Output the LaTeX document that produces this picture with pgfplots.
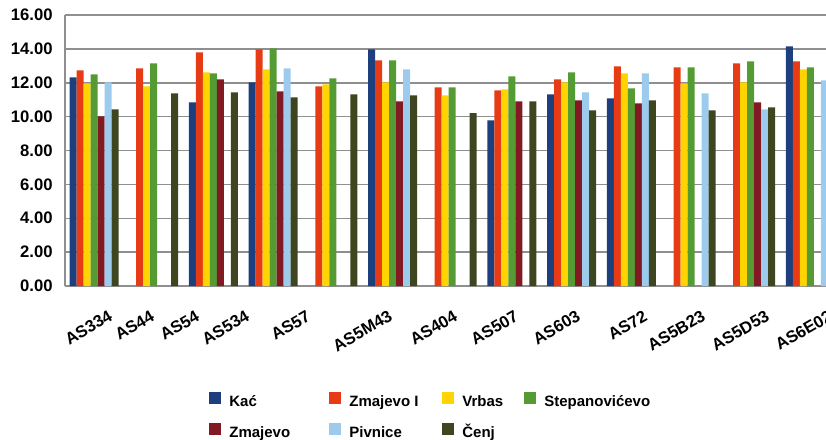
\documentclass[border=0pt]{standalone}
\usepackage{fontspec}
\setmainfont{Liberation Sans}
\usepackage{pgfplots}
\pgfplotsset{compat=1.18}
\definecolor{cKac}{HTML}{1D3F7D}
\definecolor{cZmI}{HTML}{E63B14}
\definecolor{cVrb}{HTML}{FFD400}
\definecolor{cSte}{HTML}{559B34}
\definecolor{cZma}{HTML}{821A23}
\definecolor{cPiv}{HTML}{9DCBEE}
\definecolor{cCen}{HTML}{3D461E}
\definecolor{cGrid}{HTML}{8F8F8F}

\begin{document}
\begin{tikzpicture}
% 1 px of the reference = 0.6pt
\useasboundingbox (0,0) rectangle (495.6pt,263.4pt);
\begin{axis}[
  at={(39pt,91.8pt)}, anchor=south west,
  scale only axis, width=468.6pt, height=162.6pt,
  ybar=0pt, bar width=4.2pt,
  xmin=-0.486, xmax=12.596, ymin=0, ymax=16,
  ytick={0,2,...,16},
  xtick={0.218,0.921,1.675,2.513,3.534,4.908,5.997,7.018,8.057,9.179,10.151,11.223,12.278},
  xticklabels={AS334,AS44,AS54,AS534,AS57,AS5M43,AS404,AS507,AS603,AS72,AS5B23,AS5D53,AS6E02},
  axis x line*=bottom, axis y line*=left,
  axis line style={cGrid, line width=0.9pt, -},
  ymajorgrids, grid style={cGrid, line width=0.9pt},
  major tick length=0pt,
  /pgf/number format/assume math mode=true,
  yticklabel={\pgfmathprintnumber[fixed,fixed zerofill,precision=2]{\tick}},
  yticklabel style={font=\fontsize{10}{12}\selectfont\bfseries, anchor=east, inner sep=0pt, xshift=-7.2pt},
  xticklabel style={font=\fontsize{10}{12}\selectfont\bfseries, rotate=30, anchor=east, inner sep=0pt, xshift=-6.6pt, yshift=-16pt},
  legend columns=4,
  legend image code/.code={\fill[#1] (0pt,-1pt) rectangle (7.2pt,6.2pt);},
  legend style={at={(0.1844,-0.391)}, anchor=north west, draw=none, inner sep=0pt,
    font=\fontsize{9}{11}\selectfont\bfseries,
    nodes={inner sep=0pt, text height=7pt, text depth=2pt},
    row sep=7.6pt,
    /tikz/every odd column/.append style={column sep=4.8pt}},
  every axis plot/.append style={draw=none},
]
\addplot[fill=cKac] coordinates {(0,12.32) (2,10.84) (3,12.02) (5,13.97) (7,9.78) (8,11.32) (9,11.08) (12,14.15)};
\addlegendentry{\makebox[60pt][l]{Kać}}
\addplot[fill=cZmI] coordinates {(0,12.73) (1,12.85) (2,13.79) (3,13.97) (4,11.79) (5,13.32) (6,11.73) (7,11.55) (8,12.20) (9,12.97) (10,12.91) (11,13.14) (12,13.26)};
\addlegendentry{\makebox[55.8pt][l]{Zmajevo I}}
\addplot[fill=cVrb] coordinates {(0,11.96) (1,11.79) (2,12.61) (3,12.79) (4,11.91) (5,12.02) (6,11.26) (7,11.61) (8,12.02) (9,12.55) (10,11.96) (11,12.02) (12,12.79)};
\addlegendentry{\makebox[37.2pt][l]{Vrbas}}
\addplot[fill=cSte] coordinates {(0,12.49) (1,13.14) (2,12.55) (3,14.03) (4,12.26) (5,13.32) (6,11.73) (7,12.38) (8,12.61) (9,11.67) (10,12.91) (11,13.26) (12,12.91)};
\addlegendentry{Stepanovićevo}
\addplot[fill=cZma] coordinates {(0,10.02) (2,12.20) (3,11.49) (5,10.90) (7,10.90) (8,10.96) (9,10.79) (11,10.84)};
\addlegendentry{\makebox[60pt][l]{Zmajevo}}
\addplot[fill=cPiv] coordinates {(0,12.02) (3,12.85) (5,12.79) (8,11.43) (9,12.55) (10,11.38) (11,10.43) (12,12.14)};
\addlegendentry{\makebox[55.8pt][l]{Pivnice}}
\addplot[fill=cCen] coordinates {(0,10.43) (1,11.38) (2,11.43) (3,11.14) (4,11.32) (5,11.26) (6,10.20) (7,10.90) (8,10.37) (9,10.96) (10,10.37) (11,10.55)};
\addlegendentry{\makebox[37.2pt][l]{Čenj}}
\end{axis}
\end{tikzpicture}
\end{document}
